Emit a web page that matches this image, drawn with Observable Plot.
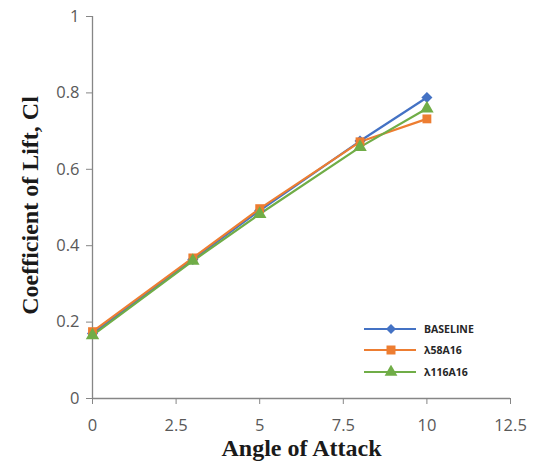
<!DOCTYPE html>
<html>
<head>
<meta charset="utf-8">
<script src="https://cdn.jsdelivr.net/npm/d3@7"></script>
<script src="https://cdn.jsdelivr.net/npm/@observablehq/plot@0.6"></script>
<style>
  html, body { margin: 0; padding: 0; background: #fff; }
  #wrap { position: relative; width: 536px; height: 464px; }
  #legend { position: absolute; left: 362px; top: 318px; font-family: "Open Sans", sans-serif; font-weight: 700; font-size: 10.5px; color: #262626; }
  #legend .row { display: flex; align-items: center; height: 21.5px; }
  #legend svg { margin-right: 6px; }
</style>
</head>
<body>
<div id="wrap"><div id="chart"></div><div id="legend"></div></div>
<script>
const angles = [0, 3, 5, 8, 10];
const seriesNames = ["BASELINE", "λ58A16", "λ116A16"];
const baseline = [0.170, 0.364, 0.492, 0.674, 0.788];
const lam58 = [0.175, 0.368, 0.497, 0.672, 0.732];
const lam116 = [0.165, 0.360, 0.483, 0.658, 0.759];
const xTicks = [0, 2.5, 5, 7.5, 10, 12.5];
const yTicks = [0, 0.2, 0.4, 0.6, 0.8, 1];
const colors = ["#4472C4", "#ED7D31", "#70AD47"];
const symbols = ["diamond2", "square", "triangle"];

const allSeries = [baseline, lam58, lam116];
const data = [];
seriesNames.forEach((s, i) => angles.forEach((a, j) => data.push({series: s, angle: a, cl: allSeries[i][j]})));

const axisFont = {fontFamily: "'Open Sans', 'Liberation Sans', sans-serif", fontSize: 16.5, fill: "#595959"};
const titleFont = {fontFamily: "'Liberation Serif', 'Times New Roman', serif", fontWeight: "bold", fontSize: 24, fill: "#1a1a1a"};

const chart = Plot.plot({
  width: 536,
  height: 464,
  marginLeft: 92,
  marginRight: 26,
  marginTop: 16,
  marginBottom: 66,
  x: {domain: [0, 12.5]},
  y: {domain: [0, 1]},
  color: {domain: seriesNames, range: colors},
  symbol: {domain: seriesNames, range: symbols},
  style: {background: "#fff", overflow: "visible"},
  marks: [
    Plot.ruleX([0], {stroke: "#868686", strokeWidth: 1.3}),
    Plot.ruleY([0], {stroke: "#868686", strokeWidth: 1.3}),
    Plot.axisX({ticks: xTicks, tickSize: 6, tickPadding: 15, stroke: "#868686", tickFormat: d => String(d), label: null, ...axisFont}),
    Plot.axisY({ticks: yTicks, tickSize: 6, tickPadding: 7, stroke: "#868686", tickFormat: d => String(d), label: null, ...axisFont}),
    Plot.line(data, {x: "angle", y: "cl", z: "series", stroke: "series", strokeWidth: 2.2}),
    Plot.dot(data, {x: "angle", y: "cl", fill: "series", symbol: "series", r: 5, stroke: "none"}),
    Plot.text(["Coefficient of Lift, Cl"], {frameAnchor: "left", textAnchor: "middle", dx: -62, dy: -2, rotate: -90, text: d => d, ...titleFont}),
    Plot.text(["Angle of Attack"], {frameAnchor: "bottom", textAnchor: "middle", dy: 57, text: d => d, ...titleFont})
  ]
});
document.getElementById("chart").appendChild(chart);

// legend
const legend = d3.select("#legend");
seriesNames.forEach((name, i) => {
  const row = legend.append("div").attr("class", "row");
  const svg = row.append("svg").attr("width", 56).attr("height", 14);
  svg.append("line").attr("x1", 2).attr("x2", 54).attr("y1", 7).attr("y2", 7).attr("stroke", colors[i]).attr("stroke-width", 2);
  const sym = [d3.symbolDiamond2, d3.symbolSquare, d3.symbolTriangle][i];
  const size = [64, 81, 70][i];
  svg.append("path").attr("d", d3.symbol(sym, size)()).attr("transform", "translate(29,7)").attr("fill", colors[i]);
  row.append("span").text(name);
});
</script>
</body>
</html>
